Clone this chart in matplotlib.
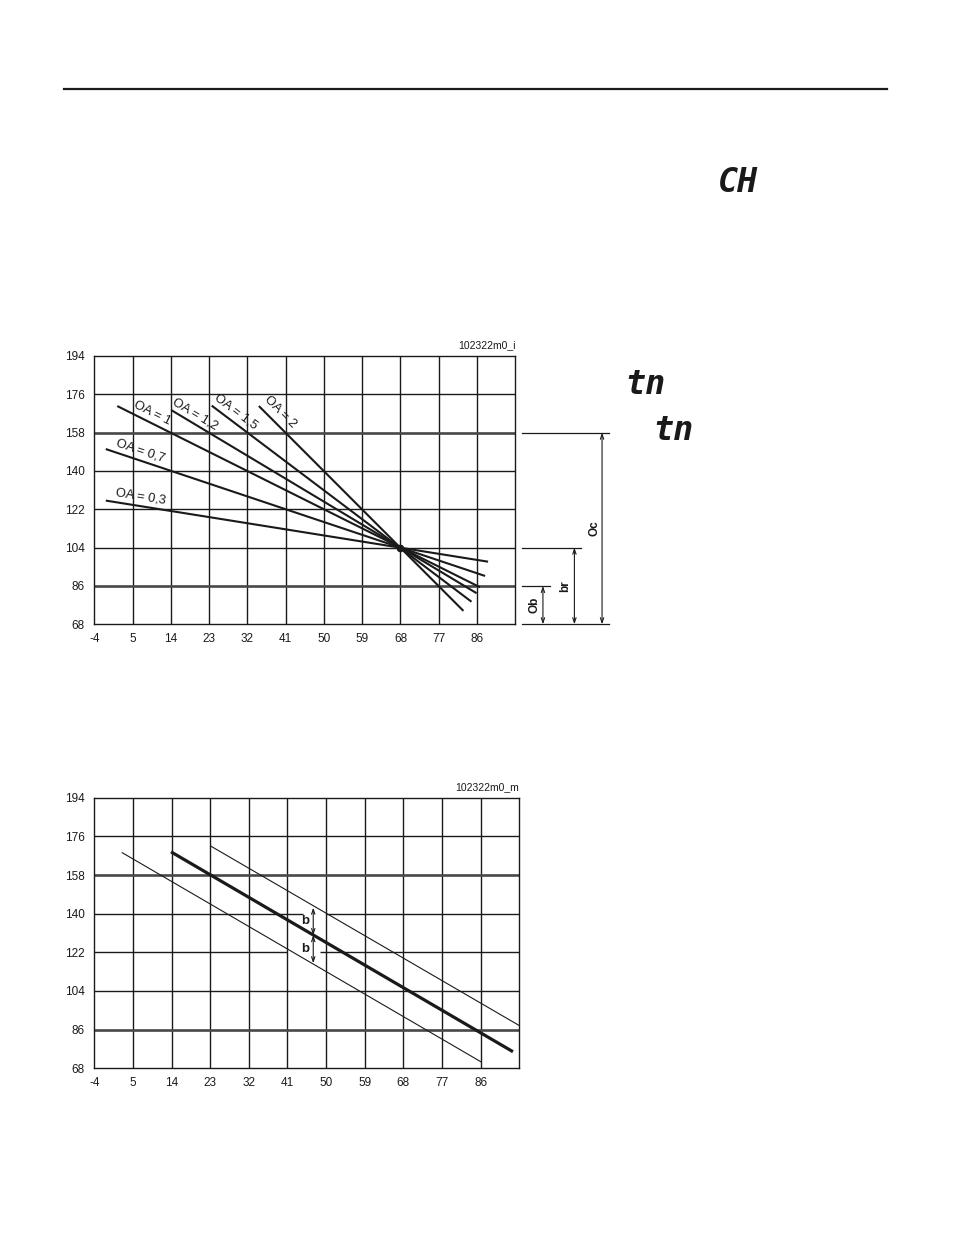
import numpy as np
import matplotlib
matplotlib.use("Agg")
import matplotlib.pyplot as plt

plt.rcParams['font.family'] = ['Liberation Sans', 'DejaVu Sans']
plt.rcParams['axes.unicode_minus'] = False

# axis ticks (same for both charts)
x_ticks = [-4, 5, 14, 23, 32, 41, 50, 59, 68, 77, 86]
y_ticks = [68, 86, 104, 122, 140, 158, 176, 194]
x_lim = (-4, 95)
y_lim = (68, 194)
limit_lines = [86, 158]

# top chart: heating curves through the pivot point
oa_labels = ['OA = 0,3', 'OA = 0,7', 'OA = 1', 'OA = 1,2', 'OA = 1,5', 'OA = 2']
oa_x_start = [-1.3, -1.3, 1.4, 14.1, 23.6, 34.7]
oa_y_start = [126.1, 150.3, 170.5, 168.6, 170.7, 170.5]
oa_x_end = [88.6, 87.9, 86.7, 85.9, 84.7, 82.8]
oa_y_end = [97.4, 90.7, 85.4, 82.6, 78.6, 74.3]
oa_label_x = [6.8, 6.8, 9.6, 19.8, 29.3, 39.8]
oa_label_y = [128.0, 149.5, 166.9, 166.9, 167.9, 167.5]
pivot_x, pivot_y = 68, 104

# dimension marks at the right of the top chart
dim_levels = [158, 104, 86]
dim_names = ['Oc', 'br', 'Ob']
dim_line_end = [117.1, 110.4, 103.2]
dim_arrow_x = [115.4, 108.9, 101.5]
dim_text_x = [113.7, 106.8, 99.4]

# bottom chart: curve with parallel offset band
curve_x = [14.2, 93.2]
curve_y = [168.4, 76.1]
upper_x = [23.1, 95.0]
upper_y = [171.5, 87.9]
lower_x = [2.5, 86.0]
lower_y = [168.4, 71.1]
b_x = 47.0
b_levels = [142.8, 130.0, 116.9]
# gaps in the horizontal grid around the "b" marks
grid_gaps = {140: (44.6, 50.0), 122: (41.0, 48.5)}

W, H = 954, 1235
fig = plt.figure(figsize=(W / 100, H / 100), dpi=100)

# rule at the top of the page
fig.add_artist(plt.Line2D([64 / W, 887 / W], [1 - 89 / H, 1 - 89 / H],
                          color='#1a1a1a', lw=1.6))

# seven segment display glyphs
disp = dict(fontsize=24, fontweight='bold', style='italic', color='#1a1a1a',
            family='DejaVu Sans Mono', ha='center', va='center')
fig.text(738 / W, 1 - 183 / H, 'CH', **disp)
fig.text(645 / W, 1 - 384 / H, 'tn', **disp)
fig.text(673 / W, 1 - 431 / H, 'tn', **disp)


def setup_axes(ax, gaps=None):
    gaps = gaps or {}
    ax.set_xlim(*x_lim)
    ax.set_ylim(*y_lim)
    ax.set_xticks(x_ticks)
    ax.set_yticks(y_ticks)
    ax.tick_params(length=0, labelsize=8.5, pad=6, colors='#1a1a1a')
    ax.tick_params(axis='y', pad=7)
    for s in ax.spines.values():
        s.set_linewidth(1.0)
        s.set_color('#1a1a1a')
    for xv in x_ticks[1:]:
        ax.axvline(xv, color='#1a1a1a', lw=1.0, zorder=1)
    for yv in y_ticks[1:-1]:
        if yv in limit_lines:
            ax.axhline(yv, color='#484848', lw=1.9, zorder=1)
        elif yv in gaps:
            g0, g1 = gaps[yv]
            ax.hlines(yv, x_lim[0], g0, color='#1a1a1a', lw=1.0, zorder=1)
            ax.hlines(yv, g1, x_lim[1], color='#1a1a1a', lw=1.0, zorder=1)
        else:
            ax.axhline(yv, color='#1a1a1a', lw=1.0, zorder=1)


# ---- top chart ----
ax1 = fig.add_axes([94.3 / W, 1 - 624.3 / H, 421 / W, 268.3 / H])
setup_axes(ax1)
for i in range(len(oa_labels)):
    ax1.plot([oa_x_start[i], oa_x_end[i]], [oa_y_start[i], oa_y_end[i]],
             color='#1a1a1a', lw=1.5, zorder=3, solid_capstyle='butt')
    slope = (oa_y_end[i] - oa_y_start[i]) / (oa_x_end[i] - oa_x_start[i])
    ax1.text(oa_label_x[i], oa_label_y[i], oa_labels[i], fontsize=9.3,
             rotation=np.degrees(np.arctan(slope)), transform_rotates_text=True,
             rotation_mode='anchor', ha='center', va='center', color='#1a1a1a')
ax1.plot(pivot_x, pivot_y, 'o', color='#1a1a1a', ms=4.5, zorder=4)
ax1.text(1.0, 1.04, '102322m0_i', transform=ax1.transAxes, ha='right',
         va='center', fontsize=7.5, color='#1a1a1a')

x_out = x_lim[1] + 1.5
for i in range(len(dim_levels)):
    ax1.plot([x_out, dim_line_end[i]], [dim_levels[i]] * 2, color='#1a1a1a',
             lw=0.9, clip_on=False)
    ax1.annotate('', xy=(dim_arrow_x[i], y_lim[0]), xytext=(dim_arrow_x[i], dim_levels[i]),
                 arrowprops=dict(arrowstyle='<->,head_length=0.35,head_width=0.12',
                                 lw=0.8, color='#1a1a1a', shrinkA=0, shrinkB=0),
                 annotation_clip=False)
    ax1.text(dim_text_x[i], (dim_levels[i] + y_lim[0]) / 2, dim_names[i],
             rotation=90, ha='center', va='center', fontsize=8.5,
             fontweight='bold', color='#1a1a1a', clip_on=False)
ax1.plot([x_out, dim_line_end[0]], [y_lim[0]] * 2, color='#1a1a1a', lw=0.9,
         clip_on=False)

# ---- bottom chart ----
ax2 = fig.add_axes([94.3 / W, 1 - 1068.3 / H, 425 / W, 270.6 / H])
setup_axes(ax2, grid_gaps)
ax2.plot(curve_x, curve_y, color='#1a1a1a', lw=2.3, zorder=3)
ax2.plot(upper_x, upper_y, color='#1a1a1a', lw=0.8, zorder=3)
ax2.plot(lower_x, lower_y, color='#1a1a1a', lw=0.8, zorder=3)
for y0, y1 in [(b_levels[0], b_levels[1]), (b_levels[1], b_levels[2])]:
    ax2.annotate('', xy=(b_x, y1), xytext=(b_x, y0),
                 arrowprops=dict(arrowstyle='<->,head_length=0.35,head_width=0.12',
                                 lw=0.8, color='#1a1a1a', shrinkA=0, shrinkB=0))
    ax2.text(b_x - 1.9, (y0 + y1) / 2, 'b', ha='center', va='center',
             fontsize=9.5, fontweight='bold', color='#1a1a1a')
ax2.text(1.0, 1.04, '102322m0_m', transform=ax2.transAxes, ha='right',
         va='center', fontsize=7.5, color='#1a1a1a')

fig.savefig('out.png', dpi=100, facecolor='white')
